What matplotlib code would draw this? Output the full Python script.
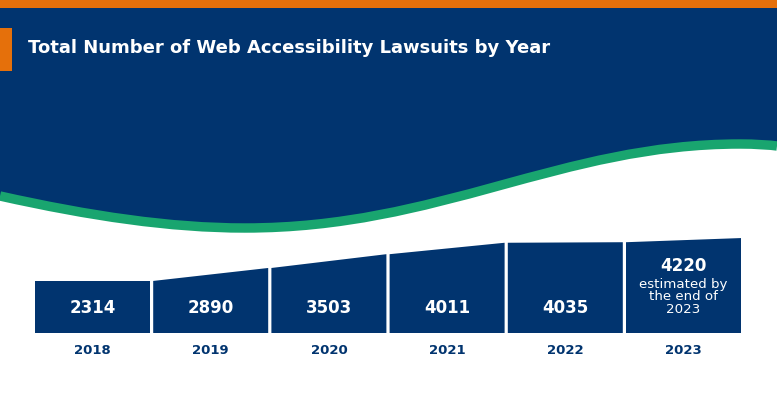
import numpy as np
import matplotlib.pyplot as plt
from matplotlib.path import Path
from matplotlib.patches import PathPatch, Polygon, Rectangle

# data
years = ['2018', '2019', '2020', '2021', '2022', '2023']
lawsuits = [2314, 2890, 3503, 4011, 4035, 4220]
title = 'Total Number of Web Accessibility Lawsuits by Year'
note_2023 = 'estimated by\nthe end of\n2023'

navy = '#01346F'
orange = '#E5700B'
green = '#19A56F'

plt.rcParams['font.family'] = ['DejaVu Sans']

fig = plt.figure(figsize=(7.77, 4.07), dpi=100)
fig.patch.set_facecolor('white')

# background layer in pixel coords (y down)
bg = fig.add_axes([0, 0, 1, 1])
bg.set_xlim(0, 777)
bg.set_ylim(407, 0)
bg.axis('off')

# wave (centre line of the green band)
wave = [(0, 196), (90, 216), (170, 228), (245, 228),
        (440, 228), (560, 144), (740, 144),
        (755, 144), (770, 145), (777, 146)]
codes = [Path.MOVETO] + [Path.CURVE4] * 9
navy_verts = [(777, 0), (0, 0)] + wave + [(777, 0)]
navy_codes = [Path.MOVETO, Path.LINETO, Path.LINETO] + [Path.CURVE4] * 9 + [Path.CLOSEPOLY]
bg.add_patch(PathPatch(Path(navy_verts, navy_codes), facecolor=navy, edgecolor='none'))
bg.add_patch(PathPatch(Path(wave, codes), facecolor='none', edgecolor=green,
                       linewidth=6.8, capstyle='butt'))

# top stripe and title marker
bg.add_patch(Rectangle((0, 0), 777, 8, facecolor=orange, edgecolor='none'))
bg.add_patch(Rectangle((0, 28), 12, 43, facecolor=orange, edgecolor='none'))
t = bg.text(28, 48, title, color='white', fontsize=13, fontweight='bold',
            va='center', ha='left')
# fit the title to the width it has in the picture
r = fig.canvas.get_renderer()
tw = t.get_window_extent(r).width
t.set_fontsize(13 * 519 / tw)

# bars
ax = fig.add_axes([35 / 777, (407 - 333) / 407, 6 * 118.2 / 777, 120 / 407])
ax.set_xlim(0, 6)
ymax = 120 / 0.0225
ax.set_ylim(0, ymax)
ax.axis('off')
px = ymax / 120  # value units per pixel
w = 115 / 118.2

for i, v in enumerate(lawsuits):
    prev = lawsuits[i - 1] if i > 0 else v
    ax.add_patch(Polygon([(i, 0), (i + w, 0), (i + w, v), (i, prev)],
                         closed=True, facecolor=navy, edgecolor='none'))
    ax.text(i + w / 2, -17 * px, years[i], color=navy, fontsize=9.5,
            fontweight='bold', ha='center', va='center', clip_on=False)
    if i < len(lawsuits) - 1:
        ax.text(i + w / 2, 25 * px, str(v), color='white', fontsize=12,
                fontweight='bold', ha='center', va='center')
    else:
        ax.text(i + w / 2, 67 * px, str(v), color='white', fontsize=12,
                fontweight='bold', ha='center', va='center')
        ax.text(i + w / 2, 36 * px, note_2023, color='white', fontsize=9.6,
                ha='center', va='center', linespacing=0.92)

fig.savefig('out.png', dpi=100)
